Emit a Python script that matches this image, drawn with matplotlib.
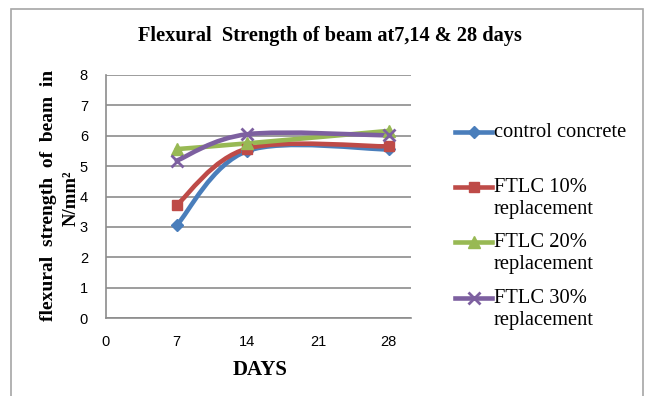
import matplotlib
matplotlib.use('Agg')
from matplotlib import pyplot as plt
from matplotlib.path import Path
from matplotlib.patches import PathPatch, Rectangle
from matplotlib.lines import Line2D
import numpy as np

days = [7, 14, 28]
control = [3.05, 5.50, 5.55]
ftlc10 = [3.72, 5.58, 5.65]
ftlc20 = [5.56, 5.75, 6.16]
ftlc30 = [5.18, 6.05, 6.01]

labels = ['control concrete', 'FTLC 10%\nreplacement', 'FTLC 20%\nreplacement', 'FTLC 30%\nreplacement']
colors = ['#4A7EBB', '#BE4B48', '#98B954', '#7D60A0']
markers = ['D', 's', '^', 'x']
msizes = [6.5, 7.5, 8, 8]

x_ticks = [0, 7, 14, 21, 28]
y_ticks = [0, 1, 2, 3, 4, 5, 6, 7, 8]

serif = 'Liberation Serif'
sans = 'Liberation Sans'


def smooth_path(xs, ys):
	# excel style smoothed line: cubic bezier through the points
	pts = np.column_stack([xs, ys]).astype(float)
	n = len(pts)
	verts = [pts[0]]
	codes = [Path.MOVETO]
	for i in range(n - 1):
		p0 = pts[i - 1] if i > 0 else pts[i]
		p1 = pts[i]
		p2 = pts[i + 1]
		p3 = pts[i + 2] if i + 2 < n else pts[i + 1]
		verts += [p1 + (p2 - p0) / 6.0, p2 - (p3 - p1) / 6.0, p2]
		codes += [Path.CURVE4] * 3
	return Path(verts, codes)


fig = plt.figure(figsize=(6.53, 3.96), dpi=100)
ax = fig.add_axes([106/653, 1 - 318/396, 305/653, 243/396])

# chart border
fig.add_artist(Rectangle((11/653, -0.05), 632/653, 1.05 - 9/396, transform=fig.transFigure,
	fill=False, edgecolor='#a6a6a6', linewidth=1.2))

ax.set_xlim(0, 30.2)
ax.set_ylim(0, 8)
ax.set_xticks(x_ticks)
ax.set_yticks(y_ticks)
ax.tick_params(length=0, labelsize=10.5, colors='black')
ax.tick_params(axis='x', pad=12)
ax.tick_params(axis='y', pad=13)
for lab in ax.get_xticklabels() + ax.get_yticklabels():
	lab.set_family(sans)
ax.grid(axis='y', color='#8c8c8c', linewidth=1.2)
ax.set_axisbelow(True)
for s in ['top', 'right']:
	ax.spines[s].set_visible(False)
for s in ['left', 'bottom']:
	ax.spines[s].set_color('#8c8c8c')
	ax.spines[s].set_linewidth(1.2)

series = [control, ftlc10, ftlc20, ftlc30]
for vals, c, m, ms in zip(series, colors, markers, msizes):
	ax.add_patch(PathPatch(smooth_path(days, vals), facecolor='none', edgecolor=c,
		linewidth=3.3, capstyle='round', joinstyle='round', zorder=3))
	ax.plot(days, vals, linestyle='none', marker=m, markersize=ms, color=c,
		markeredgewidth=2 if m == 'x' else 1, zorder=4)

fig.text(0.506, 1 - 36/396, 'Flexural  Strength of beam at7,14 & 28 days', ha='center', va='center',
	family=serif, fontweight='bold', fontsize=14.7)
fig.text(260/653, 1 - 370/396, 'DAYS', ha='center', va='center', family=serif, fontweight='bold', fontsize=15)
fig.text(49/653, 1 - 195/396, 'flexural  strength  of  beam  in', rotation=90, ha='center', va='center',
	family=serif, fontweight='bold', fontsize=14)
fig.text(71/653, 1 - 198/396, 'N/mm²', rotation=90, ha='center', va='center',
	family=serif, fontweight='bold', fontsize=13.5)

# legend drawn by hand so the symbol sits on the first text line
leg_y = [132, 187, 242, 298]
for lab, c, m, ms, yy in zip(labels, colors, markers, msizes, leg_y):
	yf = 1 - yy/396
	fig.add_artist(Line2D([455/653, 474/653, 492/653], [yf, yf, yf], transform=fig.transFigure,
		color=c, linewidth=3.3, marker=m, markersize=ms, markevery=[1],
		markeredgewidth=2 if m == 'x' else 1))
	fig.text(494/653, yf + 9/396, lab, ha='left', va='top', family=serif, fontsize=14.8,
		linespacing=1.2)

fig.savefig('out.png', dpi=100)
